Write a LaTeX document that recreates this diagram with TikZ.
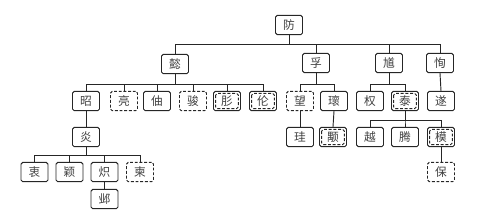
\documentclass[tikz,border=0pt]{standalone}
\usepackage{fontspec}
\newfontfamily\cjk{Noto Sans CJK SC}

\begin{document}
\begin{tikzpicture}[x=0.03cm, y=-0.03cm,
    bx/.style={draw=black!85, line width=0.8pt, rounded corners=1.5pt, minimum width=0.81cm, minimum height=0.58cm, inner sep=0, font=\cjk\fontsize{10}{10}\selectfont, text=black!75},
    dsh/.style={bx, dash pattern=on 2.5pt off 1.5pt},
    dbl/.style={bx, path picture={\draw[black!85, line width=0.8pt, dash pattern=on 2.5pt off 1.5pt] ([shift={(1.8pt,-1.8pt)}]path picture bounding box.north west) rectangle ([shift={(-1.8pt,1.8pt)}]path picture bounding box.south east);}},
    ln/.style={draw=black!85, line width=0.8pt}]
\useasboundingbox (0,0) rectangle (498,215);
\node[bx] (fang) at (289,25) {防};
\node[bx] (yi) at (175,64) {懿};
\node[bx] (fu) at (316,63) {孚};
\node[bx] (kui) at (389,63) {馗};
\node[bx] (xun) at (440,63) {恂};
\node[bx] (zhao) at (86,101) {昭};
\node[dsh] (liang) at (124,101) {亮};
\node[bx] (zhou) at (157,101) {伷};
\node[dsh] (jun) at (193,101) {骏};
\node[dbl] (rong) at (227,101) {肜};
\node[dbl] (lun) at (263,101) {伦};
\node[dsh] (wang) at (300,101) {望};
\node[bx] (gui) at (334,101) {瓌};
\node[bx] (quan) at (370,101) {权};
\node[dbl] (tai) at (405,101) {泰};
\node[bx] (sui) at (441,101) {遂};
\node[bx] (yan) at (86,137) {炎};
\node[bx] (guib) at (300,137) {珪};
\node[dbl] (yong) at (333,137) {颙};
\node[bx] (yue) at (370,137) {越};
\node[bx] (teng) at (405,137) {腾};
\node[dbl] (mo) at (441,137) {模};
\node[bx] (zhong) at (34.5,172) {衷};
\node[bx] (ying) at (69.5,172) {颖};
\node[bx] (chi) at (104.5,172) {炽};
\node[dsh] (jian) at (140,172) {柬};
\node[dsh] (bao) at (441,172) {保};
\node[bx] (ye) at (104.5,199) {邺};
\foreach \c in {yi,fu,kui,xun}
  \draw[ln] (fang.south) -- ++(0,9) -| (\c.north);
\foreach \c in {zhao,liang,zhou,jun,rong,lun}
  \draw[ln] (yi.south) -- ++(0,10) -| (\c.north);
\foreach \c in {wang,gui}
  \draw[ln] (fu.south) -- ++(0,11) -| (\c.north);
\foreach \c in {quan,tai}
  \draw[ln] (kui.south) -- ++(0,11) -| (\c.north);
\draw[ln] (xun.south) -- (sui.north);
\draw[ln] (zhao.south) -- (yan.north);
\draw[ln] (wang.south) -- (guib.north);
\draw[ln] (gui.south) -- (yong.north);
\foreach \c in {yue,teng,mo}
  \draw[ln] (tai.south) -- ++(0,9) -| (\c.north);
\foreach \c in {zhong,ying,chi,jian}
  \draw[ln] (yan.south) -- ++(0,8) -| (\c.north);
\draw[ln] (mo.south) -- (bao.north);
\draw[ln] (chi.south) -- (ye.north);
\end{tikzpicture}
\end{document}
